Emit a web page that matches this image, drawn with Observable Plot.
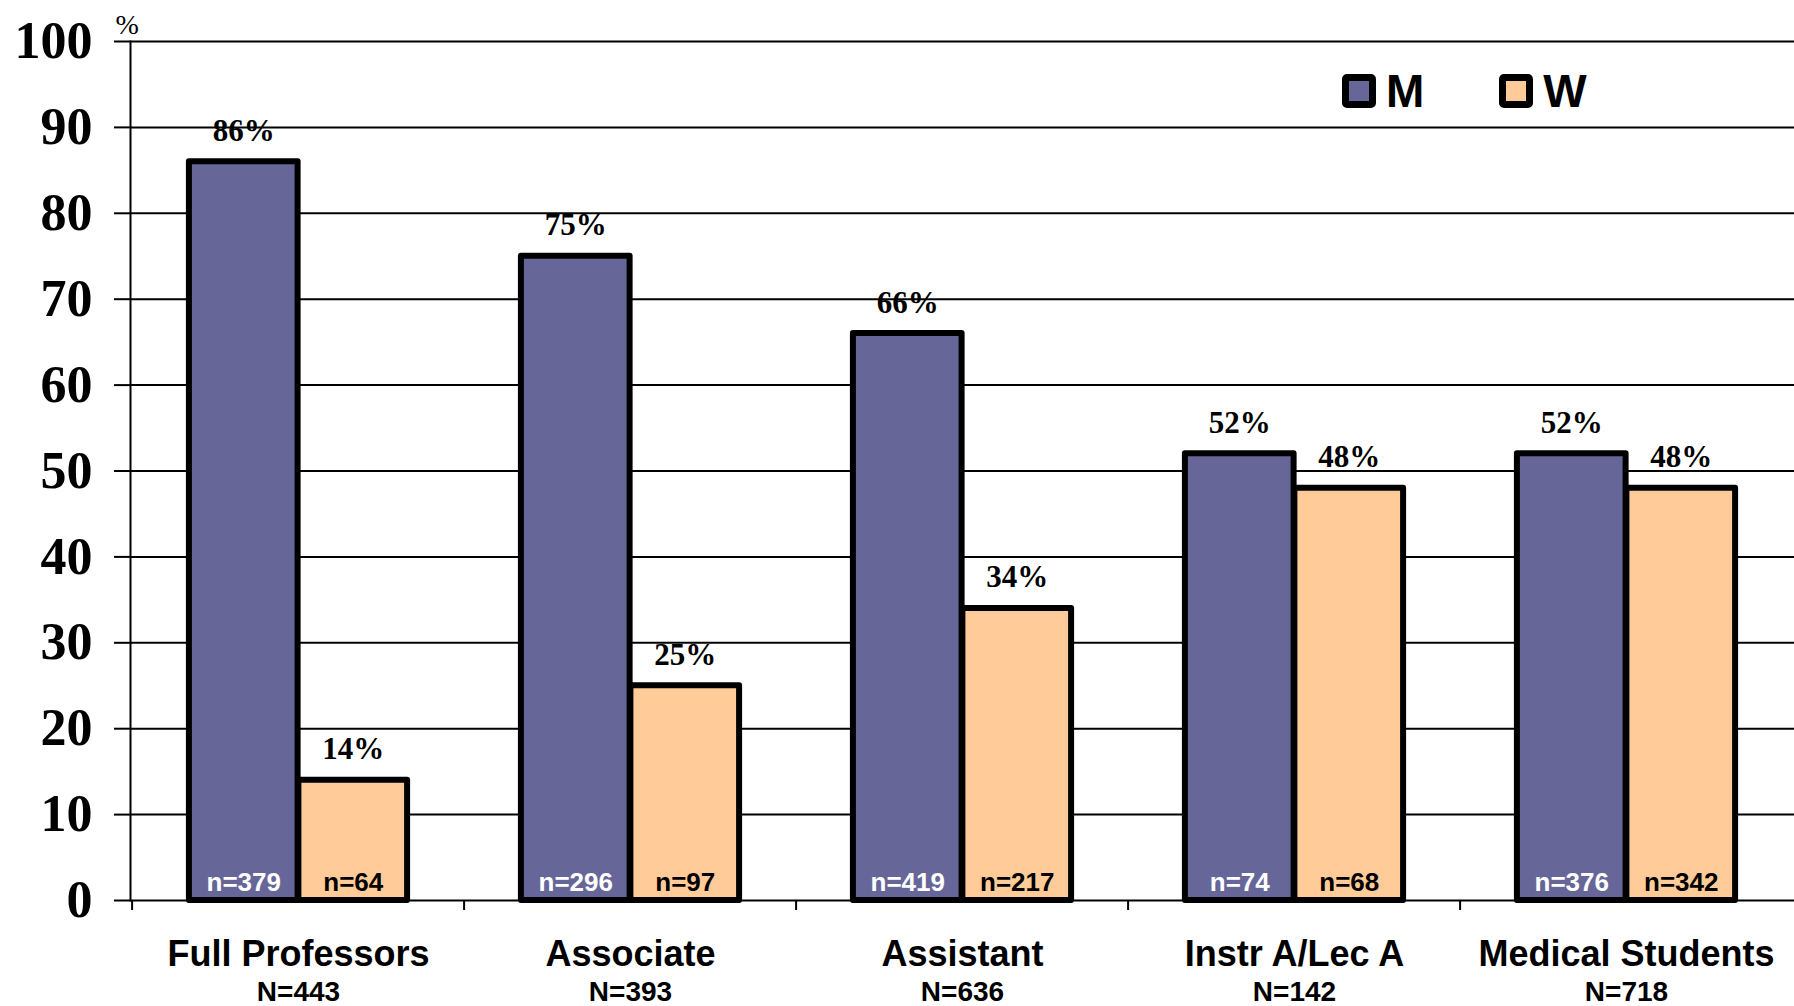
<!DOCTYPE html>
<html><head><meta charset="utf-8">
<script src="https://cdn.jsdelivr.net/npm/d3@7"></script>
<script src="https://cdn.jsdelivr.net/npm/@observablehq/plot@0.6"></script>
<style>
html,body{margin:0;padding:0;background:#fff;}
#wrap{position:relative;width:1794px;height:1006px;overflow:hidden;}
.legend{position:absolute;left:1342px;top:68px;display:flex;align-items:center;font-family:"Liberation Sans",Arial,sans-serif;font-weight:bold;font-size:46px;line-height:1;color:#000;}
.item{display:flex;align-items:center;margin-right:75px;}
.sw{width:20px;height:20px;border:7px solid #000;border-radius:5px;box-sizing:content-box;margin-right:10px;}
</style></head>
<body>
<div id="wrap"></div>
<script>
const categories = ["Full Professors", "Associate", "Assistant", "Instr A/Lec A", "Medical Students"];
const totalN = [443, 393, 636, 142, 718];
const menPct = [86, 75, 66, 52, 52];
const womenPct = [14, 25, 34, 48, 48];
const menN = [379, 296, 419, 74, 376];
const womenN = [64, 97, 217, 68, 342];
const series = ["M", "W"];
const seriesColors = ["#666699", "#FFCC99"];
const yTicks = [0, 10, 20, 30, 40, 50, 60, 70, 80, 90, 100];

const W = 1794, H = 1006, mL = 130, mR = 0, mT = 41, mB = 106;
const bw = (W - mL - mR) / categories.length;
const half = bw / 2;
const barW = 109.5;
const outer = half - barW;

const menRows = categories.map((c, i) => ({cat: c, pct: menPct[i], n: menN[i]}));
const womenRows = categories.map((c, i) => ({cat: c, pct: womenPct[i], n: womenN[i]}));
const catRows = categories.map((c, i) => ({cat: c, N: totalN[i]}));

const serif = "'Liberation Serif','Times New Roman',serif";
const sans = "'Liberation Sans',Arial,sans-serif";

const chart = Plot.plot({
  width: W, height: H,
  marginLeft: mL, marginRight: mR, marginTop: mT, marginBottom: mB,
  style: {background: "#fff", color: "#000", fontFamily: sans},
  x: {type: "band", domain: categories, padding: 0},
  y: {domain: [0, 100]},
  marks: [
    Plot.ruleY(yTicks, {stroke: "#000", strokeWidth: 2}),
    Plot.frame({anchor: "left", stroke: "#000", strokeWidth: 2}),
    Plot.axisY({ticks: yTicks, tickSize: 16, tickPadding: 22, fontSize: 52, fontWeight: "bold", fontFamily: serif, strokeWidth: 2, label: null}),
    Plot.axisX({tickSize: 10, tickFormat: () => "", dx: -half, strokeWidth: 2, label: null}),
    Plot.text(["%"], {frameAnchor: "top-left", textAnchor: "start", lineAnchor: "bottom", dx: -15, dy: -8, fontSize: 28, fontFamily: serif}),
    Plot.barY(menRows, {x: "cat", y: "pct", fill: seriesColors[0], stroke: "#000", strokeWidth: 6, strokeLinejoin: "round", insetLeft: outer, insetRight: half}),
    Plot.barY(womenRows, {x: "cat", y: "pct", fill: seriesColors[1], stroke: "#000", strokeWidth: 6, strokeLinejoin: "round", insetLeft: half, insetRight: outer}),
    Plot.text(menRows, {x: "cat", y: "pct", text: d => d.pct + "%", dx: -barW / 2, dy: -21, lineAnchor: "bottom", fontSize: 31, fontWeight: "bold", fontFamily: serif, fill: "#000"}),
    Plot.text(womenRows, {x: "cat", y: "pct", text: d => d.pct + "%", dx: barW / 2, dy: -21, lineAnchor: "bottom", fontSize: 31, fontWeight: "bold", fontFamily: serif, fill: "#000"}),
    Plot.text(menRows, {x: "cat", y: () => 0, text: d => "n=" + d.n, dx: -barW / 2, dy: -10, lineAnchor: "bottom", fontSize: 26, fontWeight: "bold", fontFamily: sans, fill: "#fff"}),
    Plot.text(womenRows, {x: "cat", y: () => 0, text: d => "n=" + d.n, dx: barW / 2, dy: -10, lineAnchor: "bottom", fontSize: 26, fontWeight: "bold", fontFamily: sans, fill: "#000"}),
    Plot.text(catRows, {x: "cat", frameAnchor: "bottom", text: "cat", dy: 65, lineAnchor: "bottom", fontSize: 36, fontWeight: "bold", fontFamily: sans, fill: "#000"}),
    Plot.text(catRows, {x: "cat", frameAnchor: "bottom", text: d => "N=" + d.N, dy: 100, lineAnchor: "bottom", fontSize: 28, fontWeight: "bold", fontFamily: sans, fill: "#000"})
  ]
});

const wrap = document.getElementById("wrap");
wrap.appendChild(chart);
const legend = document.createElement("div");
legend.className = "legend";
series.forEach((s, i) => {
  const item = document.createElement("div");
  item.className = "item";
  const sw = document.createElement("span");
  sw.className = "sw";
  sw.style.background = seriesColors[i];
  const lab = document.createElement("span");
  lab.textContent = s;
  item.appendChild(sw);
  item.appendChild(lab);
  legend.appendChild(item);
});
wrap.appendChild(legend);
</script>
</body></html>
